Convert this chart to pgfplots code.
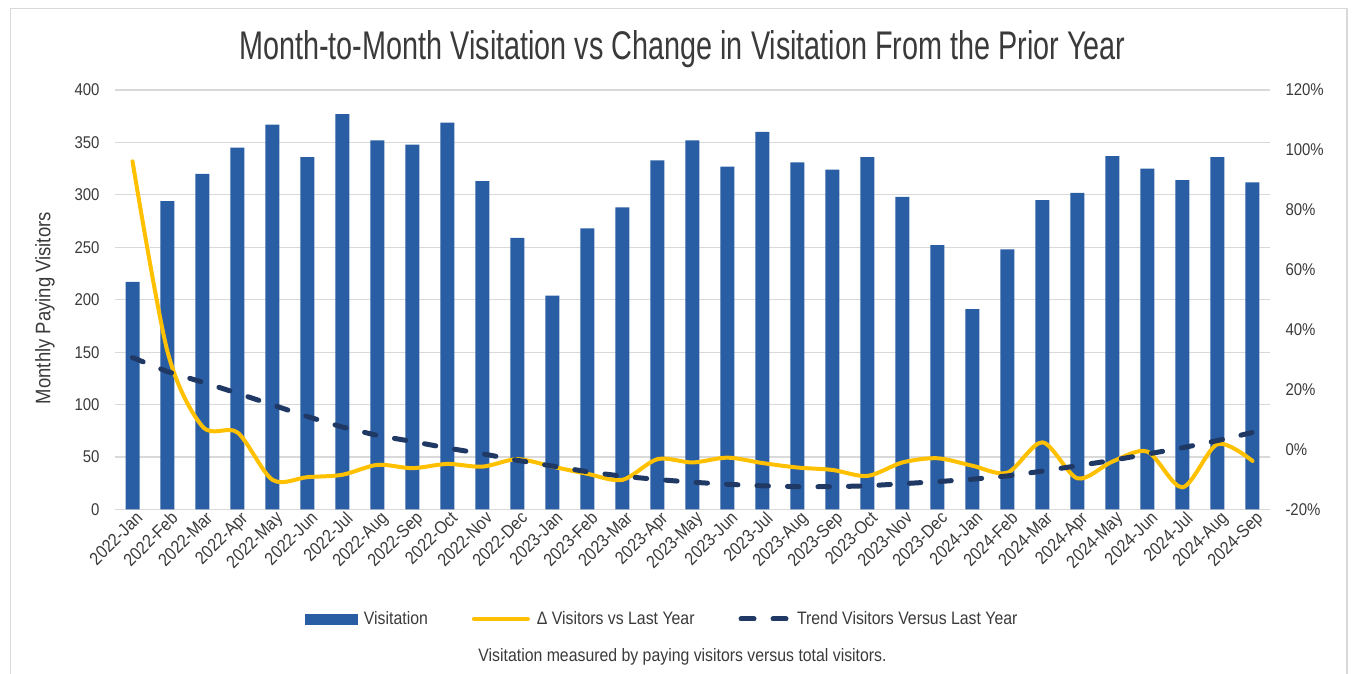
\documentclass[border=0pt]{standalone}
\usepackage{pgfplots}
\pgfplotsset{compat=1.18}
\usepackage{pgfplotstable}
\usepackage{fontspec}
\setmainfont{Liberation Sans}[FakeStretch=0.88]
\newfontfamily\titlefont{Liberation Sans}[FakeStretch=0.72]
\definecolor{barblue}{RGB}{42,94,164}
\definecolor{goldline}{RGB}{255,192,0}
\definecolor{navy}{RGB}{31,56,100}
\definecolor{textgray}{RGB}{58,58,58}
\definecolor{gridgray}{RGB}{217,217,217}

\pgfplotstableread{
i visits
0 217
1 294
2 320
3 345
4 367
5 336
6 377
7 352
8 348
9 369
10 313
11 259
12 204
13 268
14 288
15 333
16 352
17 327
18 360
19 331
20 324
21 336
22 298
23 252
24 191
25 248
26 295
27 302
28 337
29 325
30 314
31 336
32 312
}\visits

\pgfplotstableread{
i delta trend
0 96.2 30.7
1 32.7 26.0
2 7.7 22.5
3 5.7 18.8
4 -10.1 14.9
5 -9.2 11.0
6 -8.4 7.5
7 -5.1 4.7
8 -6.2 2.7
9 -4.8 0.5
10 -5.7 -1.4
11 -3.2 -3.6
12 -5.7 -5.5
13 -8.1 -7.4
14 -10.1 -8.9
15 -3.2 -10.0
16 -4.3 -10.9
17 -2.7 -11.6
18 -4.5 -12.1
19 -6.0 -12.4
20 -6.8 -12.4
21 -8.8 -12.1
22 -4.3 -11.4
23 -2.9 -10.7
24 -5.4 -9.9
25 -7.7 -8.8
26 2.4 -7.2
27 -9.6 -5.4
28 -4.0 -3.6
29 -0.7 -1.5
30 -12.6 0.6
31 1.8 3.0
32 -3.8 5.7
}\changes

\begin{document}
\begin{tikzpicture}[x=1pt,y=1pt]
\useasboundingbox (0,0) rectangle (1355,674);
\draw[gridgray, line width=1.2pt] (10.5,-20) -- (10.5,665.5) -- (1347,665.5) -- (1347,-20);
\node[anchor=base, text=textgray, font=\titlefont\fontsize{40}{48}\selectfont] at (682.5,614) {Month-to-Month Visitation vs Change in Visitation From the Prior Year};

\begin{axis}[
  at={(115pt,164.5pt)}, anchor=south west,
  width=1155pt, height=419.5pt, scale only axis,
  xmin=-0.5, xmax=32.5, ymin=0, ymax=400,
  axis x line*=bottom, axis y line*=left,
  x axis line style={draw=gridgray, line width=1.2pt, -},
  y axis line style={draw=none},
  major tick length=0pt,
  ytick={0,50,...,400},
  yticklabels={0,50,100,150,200,250,300,350,400},
  ymajorgrids, grid style={gridgray, line width=1.2pt},
  xtick={0,...,32},
  xticklabels={2022-Jan,2022-Feb,2022-Mar,2022-Apr,2022-May,2022-Jun,2022-Jul,2022-Aug,2022-Sep,2022-Oct,2022-Nov,2022-Dec,2023-Jan,2023-Feb,2023-Mar,2023-Apr,2023-May,2023-Jun,2023-Jul,2023-Aug,2023-Sep,2023-Oct,2023-Nov,2023-Dec,2024-Jan,2024-Feb,2024-Mar,2024-Apr,2024-May,2024-Jun,2024-Jul,2024-Aug,2024-Sep},
  xticklabel style={rotate=45, anchor=north east, font=\fontsize{18}{21}\selectfont, text=textgray, inner sep=2pt, xshift=3pt},
  yticklabel style={font=\fontsize{17}{20}\selectfont, text=textgray, xshift=-12pt},
  ylabel={Monthly Paying Visitors},
  ylabel style={at={(axis description cs:-0.0606,0.48)}, anchor=center, font=\fontsize{21}{25}\selectfont, text=textgray},
  clip=false,
]
\addplot[ybar, bar width=14pt, fill=barblue, draw=none] table[x=i, y=visits] {\visits};
\end{axis}

\begin{axis}[
  at={(115pt,164.5pt)}, anchor=south west,
  width=1155pt, height=419.5pt, scale only axis,
  xmin=-0.5, xmax=32.5, ymin=-20, ymax=120,
  axis y line*=right, axis x line=none,
  y axis line style={draw=none},
  major tick length=0pt,
  ytick={-20,0,...,120},
  yticklabels={-20\%,0\%,20\%,40\%,60\%,80\%,100\%,120\%},
  yticklabel style={font=\fontsize{17}{20}\selectfont, text=textgray, xshift=12pt},
  legend columns=3,
  legend style={at={(axis description cs:0.4736,-0.261)}, anchor=center, draw=none, fill=none,
    font=\fontsize{18}{21}\selectfont, text=textgray,
    /tikz/every odd column/.append style={column sep=5pt},
    /tikz/every even column/.append style={column sep=42pt}},
  clip=false,
]
\addlegendimage{legend image code/.code={\fill[barblue] (0pt,-5pt) rectangle (52pt,5pt);}}
\addlegendentry{Visitation}
\addplot[goldline, line width=4pt, smooth, line cap=round,
  legend image code/.code={\draw[goldline, line width=4pt, line cap=round] (2pt,0pt) -- (56pt,0pt);}]
  table[x=i, y=delta] {\changes};
\addlegendentry{Δ Visitors vs Last Year}
\addplot[navy, line width=5pt, line cap=round, dash pattern=on 11.5pt off 19pt,
  legend image code/.code={\draw[navy, line width=5pt, line cap=round, dash pattern=on 13pt off 19pt] (2.5pt,0pt) -- (49pt,0pt);}]
  table[x=i, y=trend] {\changes};
\addlegendentry{Trend Visitors Versus Last Year}
\end{axis}

\node[anchor=center, text=textgray, font=\fontsize{18}{21}\selectfont] at (682.5,17) {Visitation measured by paying visitors versus total visitors.};
\end{tikzpicture}
\end{document}
